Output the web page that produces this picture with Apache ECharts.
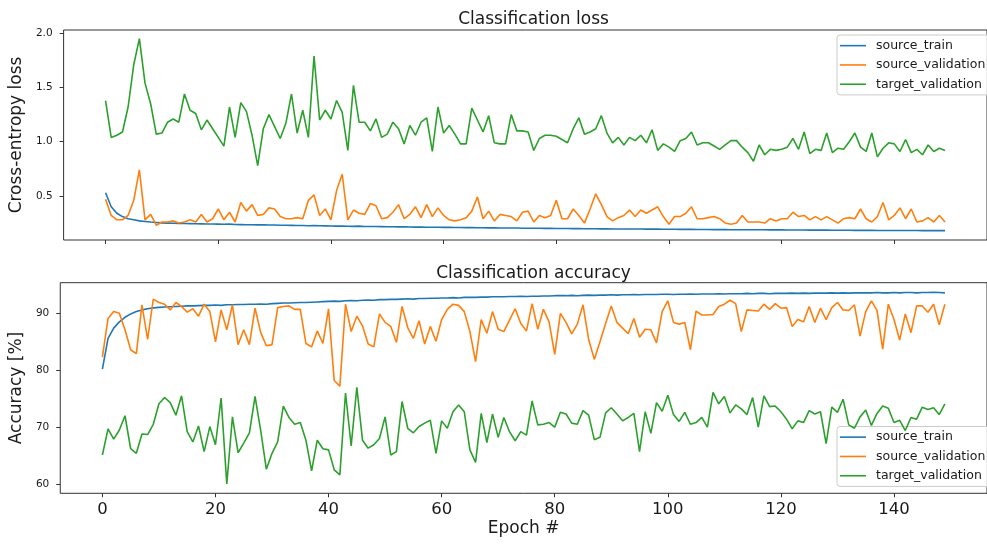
<!DOCTYPE html>
<html>
<head>
<meta charset="utf-8">
<script src="https://cdn.jsdelivr.net/npm/echarts@6/dist/echarts.min.js"></script>
<style>html,body{margin:0;padding:0;background:#fff;}#c{width:987px;height:544px;}</style>
</head>
<body>
<div id="c"></div>
<script>
const seriesNames = ['source_train', 'source_validation', 'target_validation'];
const xTicks = [0, 20, 40, 60, 80, 100, 120, 140];
const lossTicks = [0.5, 1.0, 1.5, 2.0];
const accTicks = [60, 70, 80, 90];

const trainLoss = [0.53,0.40,0.34,0.31,0.29,0.28,0.27,0.265,0.26,0.256,
 0.252,0.25,0.248,0.247,0.246,0.245,0.244,0.243,0.242,0.241,
 0.24,0.239,0.24,0.237,0.236,0.235,0.235,0.233,0.233,0.232,
 0.232,0.23,0.23,0.229,0.228,0.228,0.226,0.227,0.225,0.224,
 0.223,0.222,0.222,0.221,0.22,0.222,0.219,0.218,0.218,0.217,
 0.216,0.216,0.215,0.215,0.214,0.213,0.213,0.212,0.212,0.211,
 0.21,0.21,0.209,0.209,0.208,0.208,0.207,0.207,0.206,0.206,
 0.205,0.205,0.204,0.204,0.203,0.203,0.202,0.202,0.201,0.201,
 0.2,0.2,0.2,0.199,0.199,0.198,0.198,0.198,0.197,0.197,
 0.196,0.196,0.196,0.195,0.195,0.195,0.194,0.194,0.194,0.193,
 0.193,0.193,0.192,0.192,0.192,0.191,0.191,0.191,0.19,0.19,
 0.19,0.189,0.189,0.189,0.188,0.188,0.188,0.188,0.187,0.187,
 0.187,0.186,0.186,0.186,0.186,0.185,0.185,0.185,0.185,0.184,
 0.184,0.184,0.184,0.183,0.183,0.183,0.183,0.182,0.182,0.182,
 0.182,0.181,0.181,0.181,0.181,0.18,0.18,0.18,0.18,0.18];

const valLoss = [0.47,0.32,0.28,0.28,0.32,0.46,0.74,0.28,0.33,0.23,
 0.26,0.26,0.27,0.25,0.26,0.28,0.26,0.33,0.26,0.29,
 0.38,0.28,0.35,0.26,0.44,0.36,0.42,0.32,0.33,0.39,
 0.38,0.31,0.29,0.29,0.30,0.29,0.46,0.51,0.32,0.38,
 0.28,0.55,0.70,0.28,0.37,0.34,0.33,0.43,0.41,0.29,
 0.30,0.35,0.42,0.29,0.33,0.40,0.30,0.42,0.31,0.39,
 0.32,0.28,0.27,0.28,0.30,0.36,0.49,0.29,0.36,0.27,
 0.33,0.32,0.31,0.27,0.35,0.36,0.26,0.32,0.30,0.32,
 0.46,0.29,0.29,0.38,0.32,0.25,0.38,0.52,0.42,0.31,
 0.27,0.30,0.32,0.37,0.31,0.37,0.34,0.37,0.40,0.31,
 0.24,0.31,0.31,0.34,0.40,0.29,0.29,0.30,0.31,0.29,
 0.25,0.24,0.25,0.32,0.26,0.26,0.26,0.25,0.29,0.27,
 0.29,0.29,0.35,0.31,0.32,0.28,0.31,0.28,0.31,0.28,
 0.25,0.29,0.30,0.29,0.38,0.29,0.26,0.31,0.44,0.28,
 0.32,0.39,0.29,0.38,0.26,0.27,0.30,0.26,0.32,0.26];

const targetLoss = [1.38,1.04,1.06,1.09,1.32,1.71,1.95,1.54,1.35,1.07,
 1.08,1.18,1.21,1.18,1.44,1.29,1.26,1.11,1.20,1.12,
 1.04,0.96,1.32,1.04,1.36,1.28,1.06,0.78,1.12,1.25,
 1.14,1.03,1.17,1.44,1.08,1.29,1.04,1.79,1.20,1.29,
 1.21,1.38,1.27,0.92,1.52,1.18,1.18,1.10,1.21,1.04,
 1.07,1.18,1.12,0.98,1.15,1.06,1.18,1.22,0.91,1.32,
 1.08,1.15,1.07,0.98,0.98,1.31,1.20,1.09,1.24,0.99,
 0.98,0.98,1.25,1.10,1.10,1.09,0.92,1.03,1.06,1.06,
 1.05,1.02,0.99,1.12,1.22,1.07,1.09,1.12,1.24,1.08,
 0.99,1.04,0.97,1.04,1.01,1.06,0.99,1.11,0.92,0.98,
 0.95,0.91,1.01,1.03,1.09,0.97,0.99,0.99,0.96,0.93,
 0.97,1.01,1.01,0.95,0.90,0.82,0.97,0.88,0.93,0.92,
 0.93,0.95,1.03,0.93,1.09,0.89,0.93,0.92,1.08,0.90,
 0.94,0.93,1.00,1.08,0.95,0.91,1.08,0.86,0.94,0.99,
 0.98,0.91,1.02,0.90,0.93,0.88,0.97,0.91,0.94,0.92];

const trainAcc = [80.2,85.6,87.4,88.5,89.3,89.9,90.3,90.6,90.8,90.95,
 91.05,91.1,91.15,91.2,91.25,91.3,91.3,91.35,91.4,91.4,
 91.45,91.4,91.5,91.5,91.55,91.55,91.6,91.6,91.65,91.6,
 91.7,91.75,91.8,91.8,91.85,91.9,91.9,91.95,92.0,92.05,
 92.1,92.15,92.1,92.2,92.25,92.2,92.3,92.35,92.3,92.4,
 92.4,92.45,92.45,92.5,92.55,92.5,92.6,92.6,92.65,92.65,
 92.7,92.7,92.75,92.7,92.8,92.8,92.8,92.85,92.85,92.9,
 92.9,92.9,92.95,92.95,93.0,92.95,93.0,93.0,93.05,93.05,
 93.1,93.1,93.1,93.15,93.1,93.15,93.2,93.15,93.2,93.2,
 93.25,93.2,93.25,93.25,93.3,93.25,93.3,93.3,93.3,93.35,
 93.35,93.3,93.35,93.35,93.4,93.35,93.4,93.4,93.4,93.45,
 93.4,93.45,93.45,93.45,93.5,93.45,93.5,93.5,93.45,93.5,
 93.5,93.5,93.55,93.5,93.55,93.5,93.55,93.55,93.55,93.6,
 93.55,93.6,93.55,93.6,93.6,93.6,93.6,93.65,93.6,93.6,
 93.65,93.6,93.65,93.65,93.6,93.65,93.65,93.7,93.65,93.6];

const valAcc = [82.3,89.1,90.3,90.0,87.1,83.6,82.9,91.5,85.4,92.5,
 91.9,91.6,90.6,91.9,91.2,90.2,90.8,89.5,91.6,90.3,
 85.0,90.6,87.1,91.5,84.5,87.1,84.5,90.9,86.6,84.3,
 84.5,91.0,91.2,91.3,90.7,90.7,84.7,84.1,86.9,84.7,
 90.8,78.2,77.2,91.6,86.8,89.5,87.8,84.6,84.1,89.9,
 88.4,87.7,84.9,91.2,87.5,85.6,88.7,84.6,87.7,85.1,
 88.9,90.7,91.6,91.4,90.3,86.8,81.5,88.9,86.5,90.3,
 87.2,86.8,88.8,90.8,88.2,86.9,91.7,87.2,90.7,88.5,
 82.8,90.0,88.4,86.4,88.1,91.5,85.4,81.9,85.0,88.2,
 91.3,88.4,87.4,86.4,89.1,85.8,87.2,87.1,84.8,90.3,
 92.2,88.4,88.1,88.4,83.6,90.4,89.7,89.7,89.8,91.2,
 91.6,92.3,91.7,86.8,90.6,90.5,90.4,91.6,90.7,91.7,
 90.9,91.0,87.7,88.9,88.5,91.2,88.4,90.9,88.9,91.0,
 91.9,90.6,90.5,91.5,86.0,90.3,92.2,90.5,83.7,91.6,
 88.9,85.3,89.9,86.6,91.3,91.3,90.2,91.6,88.0,91.6];

const targetAcc = [65.1,69.7,67.9,69.5,72.0,66.2,65.4,68.8,68.7,70.5,
 74.1,75.2,74.3,72.1,75.5,69.2,67.4,70.2,65.7,70.1,
 66.9,75.1,60.0,71.8,65.5,67.2,69.0,75.4,69.4,62.6,
 65.4,67.4,73.7,71.7,70.5,70.8,67.7,62.3,67.7,66.2,
 66.0,62.5,61.6,76.0,66.7,77.0,67.7,66.3,66.9,68.0,
 71.8,65.1,65.7,74.5,69.8,69.0,70.1,70.7,71.2,65.4,
 71.1,69.8,72.7,73.9,72.7,66.0,63.8,72.4,67.3,72.3,
 68.2,71.7,69.2,67.6,69.2,68.6,74.6,70.4,70.5,70.8,
 70.0,72.6,72.3,70.7,70.5,72.9,72.1,67.8,68.2,72.5,
 73.4,72.3,71.1,71.7,72.4,65.7,72.7,68.9,74.3,72.8,
 75.6,72.2,71.0,72.6,70.5,70.8,71.7,70.0,76.1,74.1,
 75.4,72.5,73.9,73.2,72.2,75.2,70.0,75.5,73.6,73.7,
 72.7,71.4,69.7,71.1,70.8,72.9,72.3,72.7,67.1,73.5,
 72.6,74.9,70.4,69.8,71.8,73.0,70.3,72.4,73.7,73.3,
 70.8,71.2,69.4,71.7,71.4,73.5,73.1,73.4,72.2,74.1];

const colors = ['#1f77b4', '#ff7f0e', '#2ca02c'];
const font = 'DejaVu Sans';
const txt = '#1a1a1a';
const pairs = arr => arr.map((v, i) => [i, v]);

function xAxisCfg(idx, showLabels) {
  return {
    type: 'value', gridIndex: idx, min: -7.45, max: 156.45, position: 'bottom',
    splitLine: { show: false },
    axisLine: { show: false, onZero: false },
    axisTick: { show: true, customValues: xTicks, length: 4, lineStyle: { color: '#333' }, inside: false },
    axisLabel: { show: showLabels, customValues: xTicks, fontSize: 16.5, fontFamily: font, color: txt, margin: 8 },
    name: showLabels ? 'Epoch #' : '', nameLocation: 'middle', nameGap: 27,
    nameTextStyle: { fontSize: 17, fontFamily: font, color: txt }
  };
}
function yAxisCfg(idx, min, max, ticks, name, fmt) {
  return {
    type: 'value', gridIndex: idx, min: min, max: max, position: 'left',
    splitLine: { show: false },
    axisLine: { show: false, onZero: false },
    axisTick: { show: true, customValues: ticks, length: 4, lineStyle: { color: '#333' }, inside: false },
    axisLabel: { customValues: ticks, fontSize: 10.5, fontFamily: font, color: txt, margin: 11, formatter: fmt },
    name: name, nameLocation: 'middle', nameGap: 31,
    nameTextStyle: { fontSize: 17, fontFamily: font, color: txt }
  };
}
function legendCfg(top) {
  return {
    orient: 'vertical', left: 837, top: top,
    data: seriesNames,
    icon: 'rect', itemWidth: 26, itemHeight: 1.6, itemGap: 0,
    padding: [1, 40, 1, 3],
    backgroundColor: 'rgba(255,255,255,0.8)', borderColor: '#cccccc', borderWidth: 1, borderRadius: 3,
    textStyle: { fontSize: 12.5, fontFamily: font, color: txt, lineHeight: 19.3, padding: [0, 0, 0, 5] }
  };
}
function lineSeries(name, data, xi, ci) {
  return {
    name: name, type: 'line', xAxisIndex: xi, yAxisIndex: xi, data: pairs(data),
    showSymbol: false, symbol: 'none', lineStyle: { width: 1.6, color: colors[ci] },
    itemStyle: { color: colors[ci] }, z: 2 + ci
  };
}

const chart = echarts.init(document.getElementById('c'), null, { renderer: 'canvas' });
chart.setOption({
  animation: false,
  backgroundColor: '#ffffff',
  title: [
    { text: 'Classification loss', left: 528.5, textAlign: 'center', top: 6, textStyle: { fontSize: 17, fontWeight: 'normal', fontFamily: font, color: txt } },
    { text: 'Classification accuracy', left: 528.5, textAlign: 'center', top: 260, textStyle: { fontSize: 17, fontWeight: 'normal', fontFamily: font, color: txt } }
  ],
  grid: [
    { left: 60, top: 30, width: 937.4, height: 210, show: true, borderColor: '#333', borderWidth: 1, backgroundColor: 'transparent' },
    { left: 60, top: 282.7, width: 937.4, height: 210.6, show: true, borderColor: '#333', borderWidth: 1, backgroundColor: 'transparent' }
  ],
  xAxis: [xAxisCfg(0, false), xAxisCfg(1, true)],
  yAxis: [
    yAxisCfg(0, 0.094, 2.03, lossTicks, 'Cross-entropy loss', v => v.toFixed(1)),
    yAxisCfg(1, 58.37, 95.38, accTicks, 'Accuracy [%]', v => String(v))
  ],
  legend: [legendCfg(35), legendCfg(426.5)],
  series: [
    lineSeries(seriesNames[0], trainLoss, 0, 0),
    lineSeries(seriesNames[1], valLoss, 0, 1),
    lineSeries(seriesNames[2], targetLoss, 0, 2),
    lineSeries(seriesNames[0], trainAcc, 1, 0),
    lineSeries(seriesNames[1], valAcc, 1, 1),
    lineSeries(seriesNames[2], targetAcc, 1, 2)
  ]
});
</script>
</body>
</html>
